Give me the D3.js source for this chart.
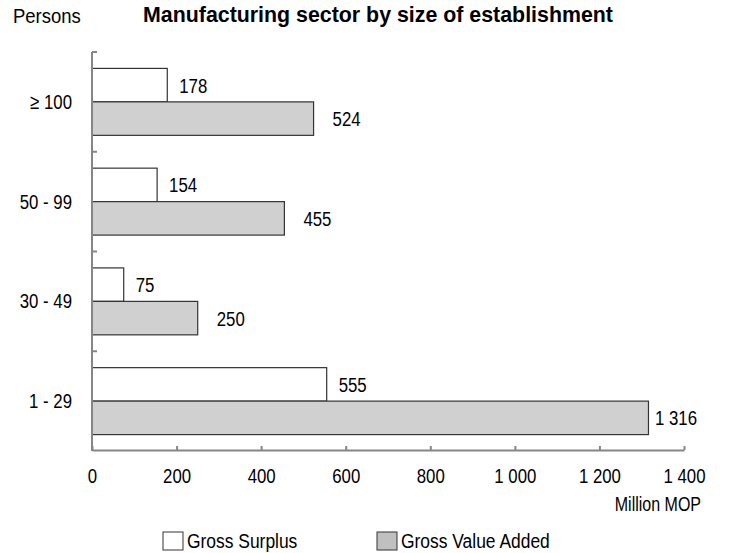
<!DOCTYPE html>
<html>
<head>
<meta charset="utf-8">
<script src="https://cdn.jsdelivr.net/npm/d3@7"></script>
<style>
  html, body { margin: 0; padding: 0; background: #fff; }
  svg { display: block; font-family: "Liberation Sans", Arial, sans-serif; }
</style>
</head>
<body>
<svg id="chart" width="731" height="553"></svg>
<script>
// Establishment size classes (persons engaged), top to bottom
const categories = ["≥ 100", "50 - 99", "30 - 49", "1 - 29"];
const seriesNames = ["Gross Surplus", "Gross Value Added"];
// Million MOP
const grossSurplus = [178, 154, 75, 555];
const grossValueAdded = [524, 455, 250, 1316];
const xTicks = [0, 200, 400, 600, 800, 1000, 1200, 1400];

const fills = { "Gross Surplus": "#ffffff", "Gross Value Added": "#d0d0d0" };
const legendFills = { "Gross Surplus": "#ffffff", "Gross Value Added": "#c0c0c0" };

const svg = d3.select("#chart");
const axisColor = "#868686";
const NARROW = 0.8;   // horizontal condensing applied to label text
const FS = 21;        // label font size

// Horizontal condensing of a text element around its anchor x
function condense(sel, sx) {
  sel.attr("transform", function () {
    const ax = +d3.select(this).attr("x") || 0;
    return `translate(${ax},0) scale(${sx},1) translate(${-ax},0)`;
  });
}

const x = d3.scaleLinear().domain([0, 1400]).range([92, 684]);
const y = d3.scaleBand().domain(categories).range([52, 451]).padding(0);
const ySub = d3.scaleBand().domain(seriesNames).range([0, y.bandwidth()])
  .paddingInner(0).paddingOuter(0.49);

const fmt = v => d3.format(",")(v).replace(/,/g, " ");

const rows = categories.map((c, i) => ({
  cat: c,
  values: [
    { s: "Gross Surplus", v: grossSurplus[i] },
    { s: "Gross Value Added", v: grossValueAdded[i] }
  ]
}));

// Title and unit captions
svg.append("text").attr("x", 13).attr("y", 23)
  .attr("font-size", FS).attr("fill", "#000").text("Persons")
  .call(condense, 0.88);
svg.append("text").attr("x", 143).attr("y", 22)
  .attr("font-size", 21.5).attr("font-weight", "bold").attr("fill", "#000")
  .attr("textLength", 470).attr("lengthAdjust", "spacingAndGlyphs")
  .text("Manufacturing sector by size of establishment");

// Bars
const groups = svg.append("g").selectAll("g").data(rows).join("g")
  .attr("transform", d => `translate(0,${y(d.cat)})`);

groups.selectAll("rect").data(d => d.values).join("rect")
  .attr("x", x(0))
  .attr("y", d => ySub(d.s))
  .attr("width", d => x(d.v) - x(0))
  .attr("height", ySub.bandwidth())
  .attr("fill", d => fills[d.s])
  .attr("stroke", "#333")
  .attr("stroke-width", 1.2);

// Value labels
groups.selectAll("text").data(d => d.values).join("text")
  .attr("x", d => {
    const off = d.s === "Gross Surplus" ? 12 : 19;
    return Math.min(x(d.v) + off, x(1400) - 29);
  })
  .attr("y", d => ySub(d.s) + ySub.bandwidth() / 2)
  .attr("dy", "0.36em")
  .attr("font-size", FS).attr("fill", "#000")
  .text(d => fmt(d.v))
  .call(condense, NARROW);

// Y axis: line with inward ticks at the band boundaries
const yAxis = svg.append("g");
yAxis.append("line").attr("x1", 92).attr("x2", 92).attr("y1", 52).attr("y2", 451)
  .attr("stroke", axisColor).attr("stroke-width", 2);
yAxis.selectAll("line.tick").data(categories).join("line").attr("class", "tick")
  .attr("x1", 92).attr("x2", 97)
  .attr("y1", d => y(d)).attr("y2", d => y(d))
  .attr("stroke", axisColor).attr("stroke-width", 2);
yAxis.selectAll("text").data(categories).join("text")
  .attr("x", 72).attr("y", d => y(d) + y.bandwidth() / 2)
  .attr("dy", "0.33em").attr("text-anchor", "end")
  .attr("font-size", FS).attr("fill", "#000")
  .text(d => d)
  .call(condense, NARROW);

// X axis
const xAxis = svg.append("g").attr("transform", "translate(0,450)")
  .call(d3.axisBottom(x).tickValues(xTicks).tickSize(0).tickPadding(18).tickFormat(fmt));
xAxis.attr("font-family", null).attr("font-size", null);
xAxis.select(".domain").attr("stroke", axisColor).attr("stroke-width", 2);
xAxis.selectAll(".tick text").attr("font-size", FS).attr("fill", "#000")
  .call(condense, NARROW);
xAxis.selectAll(".tick").append("line")
  .attr("y1", 0).attr("y2", -4)
  .attr("stroke", axisColor).attr("stroke-width", 2);

svg.append("text").attr("x", 701).attr("y", 511).attr("text-anchor", "end")
  .attr("font-size", 20).attr("fill", "#000").text("Million MOP")
  .call(condense, NARROW);

// Legend
const legendX = [163, 377];
const legend = svg.append("g").selectAll("g").data(seriesNames).join("g")
  .attr("transform", (d, i) => `translate(${legendX[i]},532)`);
legend.append("rect").attr("width", 20).attr("height", 18)
  .attr("fill", d => legendFills[d])
  .attr("stroke", "#333").attr("stroke-width", 1);
legend.append("text").attr("x", 24).attr("y", 16)
  .attr("font-size", 21).attr("fill", "#000").text(d => d)
  .call(condense, 0.83);
</script>
</body>
</html>
